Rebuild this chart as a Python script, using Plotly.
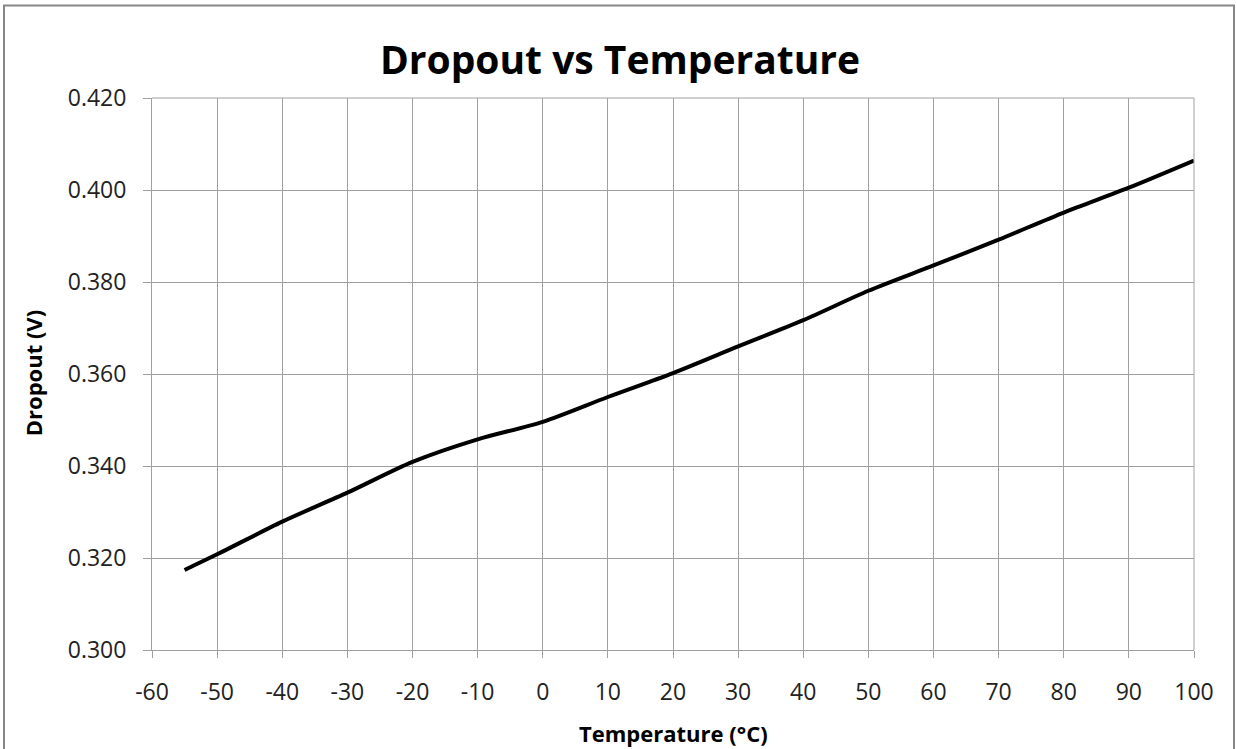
import plotly.graph_objects as go

temperature_c = [-55, -50, -40, -30, -20, -10, 0, 10, 20, 30, 40, 50, 60, 70, 80, 90, 100]
dropout_v = [0.3174, 0.3208, 0.3279, 0.3342, 0.3409, 0.3458, 0.3496, 0.3550, 0.3602,
             0.3660, 0.3717, 0.3781, 0.3836, 0.3892, 0.3951, 0.4005, 0.4064]

x_ticks = list(range(-60, 101, 10))
y_ticks = [0.300, 0.320, 0.340, 0.360, 0.380, 0.400, 0.420]

W, H = 1237, 749
L, R, T, B = 152, 43, 97.5, 99
pw, ph = W - L - R, H - T - B

grid = "#a0a0a0"
font = "Open Sans"

fig = go.Figure()
fig.add_trace(go.Scatter(
    x=temperature_c, y=dropout_v, mode="lines",
    line=dict(color="black", width=4, shape="spline", smoothing=0.8),
    showlegend=False, hoverinfo="x+y",
))

fig.update_layout(
    width=W, height=H,
    margin=dict(l=L, r=R, t=T, b=B),
    paper_bgcolor="white", plot_bgcolor="white",
    title=dict(text="<b>Dropout vs Temperature</b>", x=620 / W, xanchor="center",
               y=1 - 60 / H, yanchor="middle",
               font=dict(family=font, size=39, color="black")),
    xaxis=dict(range=[-60, 100], tickvals=x_ticks, ticktext=[str(v) for v in x_ticks],
               showgrid=True, gridcolor=grid, gridwidth=1,
               showline=True, linecolor=grid, linewidth=1, mirror=False,
               ticks="outside", ticklen=7, tickcolor=grid, tickwidth=1,
               ticklabelstandoff=14, zeroline=False,
               tickfont=dict(family=font, size=23, color="#222")),
    yaxis=dict(range=[0.300, 0.420], tickvals=y_ticks, ticktext=[f"{v:.3f}" for v in y_ticks],
               showgrid=True, gridcolor=grid, gridwidth=1,
               showline=True, linecolor=grid, linewidth=1,
               ticks="outside", ticklen=8, tickcolor=grid, tickwidth=1,
               ticklabelstandoff=12, zeroline=False,
               tickfont=dict(family=font, size=23, color="#222")),
    annotations=[
        dict(text="<b>Temperature (°C)</b>", xref="paper", yref="paper",
             x=(673 - L) / pw, y=-(733 - (T + ph)) / ph, xanchor="center", yanchor="middle",
             showarrow=False, font=dict(family=font, size=22, color="black")),
        dict(text="<b>Dropout (V)</b>", xref="paper", yref="paper", textangle=-90,
             x=-(L - 33) / pw, y=(T + ph - 373) / ph, xanchor="center", yanchor="middle",
             showarrow=False, font=dict(family=font, size=22, color="black")),
    ],
    shapes=[
        dict(type="line", xref="paper", yref="paper", x0=1, x1=1, y0=0, y1=1,
             line=dict(color=grid, width=1)),
        dict(type="line", xref="paper", yref="paper", x0=0, x1=1, y0=1, y1=1,
             line=dict(color=grid, width=1)),
        dict(type="rect", xref="paper", yref="paper",
             x0=(4 - L) / pw, x1=(1234 - L) / pw,
             y0=-(760 - (T + ph)) / ph, y1=(T + ph - 5) / ph,
             line=dict(color="#878787", width=2), fillcolor="rgba(0,0,0,0)", layer="below"),
    ],
)

fig.write_html("out.html", config={"displayModeBar": False},
               post_script="document.body.style.margin='0px';document.body.style.overflow='hidden';")
